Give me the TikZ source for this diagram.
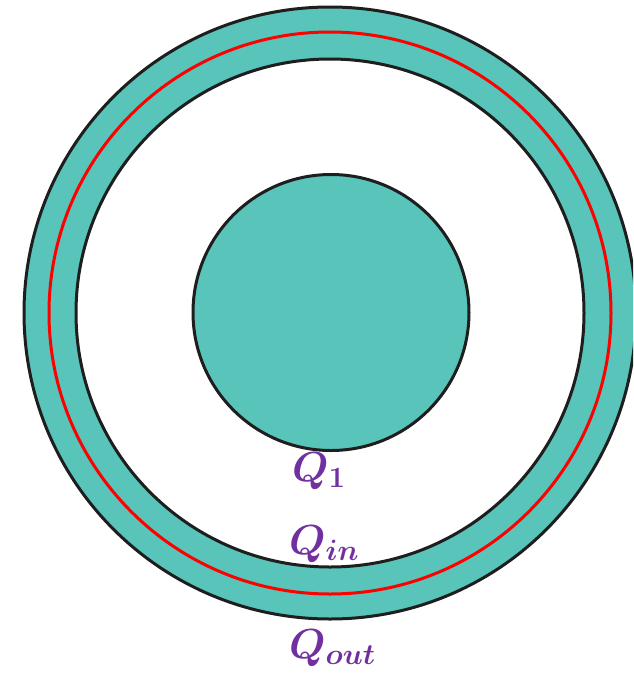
\RequirePackage{fix-cm}
\documentclass[tikz,border=0pt]{standalone}
\usepackage{amsmath,bm}
\definecolor{teal1}{RGB}{88,196,186}
\definecolor{qpurple}{RGB}{112,48,160}
\definecolor{edge}{RGB}{30,30,30}
\tikzset{
  shell/.style={fill=teal1, draw=edge, line width=3pt},
  hole/.style={fill=white, draw=edge, line width=3pt},
  gauss/.style={draw=red, line width=3pt},
  qlab/.style={text=qpurple, inner sep=0pt, font=\fontsize{42}{46}\selectfont}
}
\begin{document}
\begin{tikzpicture}[x=1pt,y=-1pt]
\useasboundingbox (0,0) rectangle (633,673);
\clip (0,0) rectangle (633,673);
\coordinate (c) at (330,313);
\draw[shell] (c) circle (306);
\draw[hole] (c) circle (254);
\draw[gauss] (c) circle (281);
\node[shell, circle, minimum size=276pt, inner sep=0pt] (core) at (331,312.5) {};
\node[qlab, anchor=base west] (q1) at (292,481) {$\bm{Q_{1}}$};
\node[qlab, anchor=base west] (qin) at (289,554) {$\bm{Q_{in}}$};
\node[qlab, anchor=base west] (qout) at (289,658) {$\bm{Q_{out}}$};
\end{tikzpicture}
\end{document}
